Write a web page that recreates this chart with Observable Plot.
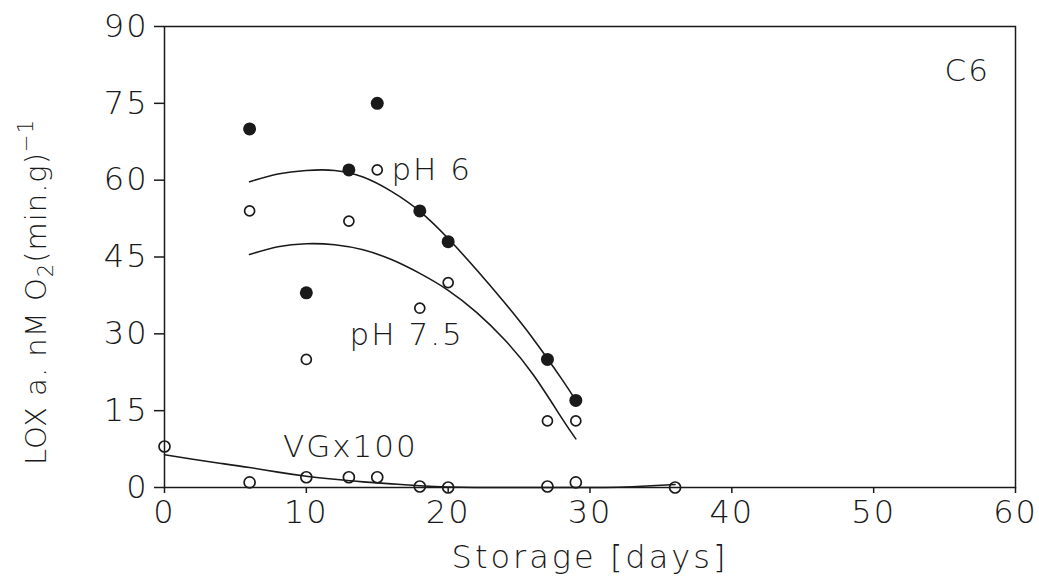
<!DOCTYPE html>
<html><head><meta charset="utf-8">
<script src="https://cdn.jsdelivr.net/npm/d3@7"></script>
<script src="https://cdn.jsdelivr.net/npm/@observablehq/plot@0.6"></script>
<style>
body{margin:0;background:#fff;}
#chart svg{display:block;}
</style>
</head><body><div id="chart"></div>
<script>
// measured points
const days = [6, 10, 13, 15, 18, 20, 27, 29];
const ph6 = [70, 38, 62, 75, 54, 48, 25, 17];
const ph75 = [54, 25, 52, 62, 35, 40, 13, 13];
const vgDays = [0, 6, 10, 13, 15, 18, 20, 27, 29, 36];
const vg = [8, 1, 2, 2, 2, 0.2, 0, 0.2, 1, 0];
// fitted curves
const fitDays = [6, 8, 10, 12, 14, 16, 18, 20, 22, 24, 26, 28, 29];
const fit6 = [59.7, 61.2, 61.9, 61.9, 60.6, 57.8, 53.9, 48.6, 42.5, 36.0, 29.0, 21.2, 17.0];
const fit75 = [45.5, 47.0, 47.6, 47.4, 46.4, 44.5, 41.8, 38.5, 34.2, 28.8, 22.0, 13.6, 9.5];
const vgFitDays = [0, 2, 4, 6, 8, 10, 12, 14, 16, 18, 20, 22, 25, 28, 31, 33, 36];
const vgFit = [6.4, 5.5, 4.7, 3.9, 3.0, 2.2, 1.6, 1.1, 0.7, 0.35, 0.1, 0, 0, 0, 0, 0.15, 0.6];
// ticks and labels
const xTicks = [0, 10, 20, 30, 40, 50, 60];
const yTicks = [0, 15, 30, 45, 60, 75, 90];
const labelText = ["pH 6", "pH 7.5", "VGx100", "C6"];
const labelX = [16.0, 13.05, 8.35, 55.0];
const labelY = [62, 29.8, 7.8, 81.2];
const xTitle = "Storage [days]";

const pts6 = days.map((d, i) => ({x: d, y: ph6[i]}));
const pts75 = days.map((d, i) => ({x: d, y: ph75[i]}));
const ptsVG = vgDays.map((d, i) => ({x: d, y: vg[i]}));
const c6 = fitDays.map((d, i) => ({x: d, y: fit6[i]}));
const c75 = fitDays.map((d, i) => ({x: d, y: fit75[i]}));
const cVG = vgFitDays.map((d, i) => ({x: d, y: vgFit[i]}));
const labels = labelText.map((t, i) => ({t, x: labelX[i], y: labelY[i]}));

const FONT = "'DejaVu Sans', sans-serif";
const INK = "#1a1a1a";
const plot = Plot.plot({
  width: 1039, height: 583,
  marginLeft: 164, marginRight: 24, marginTop: 26, marginBottom: 96,
  style: {fontFamily: FONT, fontWeight: 200, color: INK, background: "#fff", letterSpacing: "2px"},
  x: {domain: [0, 60]},
  y: {domain: [0, 90]},
  marks: [
    Plot.frame({stroke: INK, strokeWidth: 1.5}),
    Plot.axisX({ticks: xTicks, tickSize: 6, tickPadding: 7, fontSize: 32, label: null, strokeWidth: 1.5}),
    Plot.axisY({ticks: yTicks, tickSize: 10, tickPadding: 6, fontSize: 32, label: null, strokeWidth: 1.5}),
    Plot.line(c6, {x: "x", y: "y", curve: "natural", stroke: INK, strokeWidth: 1.6}),
    Plot.line(c75, {x: "x", y: "y", curve: "natural", stroke: INK, strokeWidth: 1.6}),
    Plot.line(cVG, {x: "x", y: "y", curve: "natural", stroke: INK, strokeWidth: 1.6}),
    Plot.dot(pts6, {x: "x", y: "y", r: 6.5, fill: INK, stroke: "none"}),
    Plot.dot(pts75, {x: "x", y: "y", r: 5, fill: "white", stroke: INK, strokeWidth: 1.7}),
    Plot.dot(ptsVG, {x: "x", y: "y", r: 5.5, fill: "none", stroke: INK, strokeWidth: 1.7}),
    Plot.text(labels, {x: "x", y: "y", text: "t", textAnchor: "start", fontSize: 31, fill: INK})
  ]
});
document.getElementById("chart").appendChild(plot);

const svg = d3.select(plot);
svg.append("text")
  .attr("x", 590).attr("y", 568)
  .attr("text-anchor", "middle")
  .attr("font-size", 32).attr("letter-spacing", "3px").attr("fill", INK)
  .text(xTitle);
const yl = svg.append("text")
  .attr("transform", "translate(46,292) rotate(-90)")
  .attr("text-anchor", "middle")
  .attr("font-size", 29).attr("letter-spacing", "1px").attr("fill", INK);
yl.append("tspan").text("LOX a. nM O");
yl.append("tspan").attr("font-size", 21).attr("dy", 7).text("2");
yl.append("tspan").attr("dy", -7).text("(min.g)");
yl.append("tspan").attr("font-size", 21).attr("dy", -13).text("−1");
</script>
</body></html>
